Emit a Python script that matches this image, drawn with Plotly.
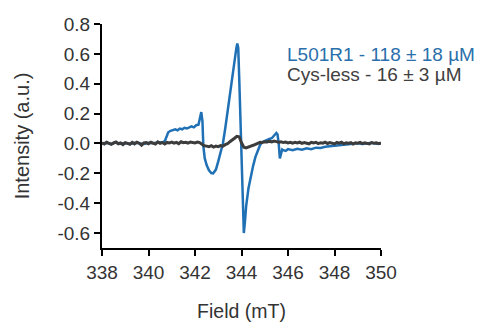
import plotly.graph_objects as go

# Field (mT) and intensity values
blue_field = [338.0, 338.2, 338.4, 338.6, 338.8, 339.0, 339.2, 339.4, 339.6, 339.8,
              340.0, 340.2, 340.4, 340.6, 340.7, 340.8, 340.85, 340.95, 341.05, 341.15,
              341.25, 341.35, 341.45, 341.55, 341.65, 341.75, 341.85, 341.95, 342.05, 342.15,
              342.2, 342.27, 342.32, 342.36, 342.42, 342.5, 342.6, 342.7, 342.78, 342.9,
              343.0, 343.1, 343.2, 343.3, 343.4, 343.5, 343.6, 343.7, 343.78, 343.82,
              343.86, 343.9, 343.95, 344.0, 344.05, 344.1, 344.15, 344.2, 344.3, 344.4,
              344.5, 344.6, 344.7, 344.8, 344.9, 345.0, 345.1, 345.2, 345.3, 345.4,
              345.5, 345.55, 345.6, 345.65, 345.7, 345.75, 345.8, 345.9, 346.0, 346.2,
              346.4, 346.6, 346.8, 347.0, 347.2, 347.4, 347.6, 347.8, 348.0, 348.2,
              348.4, 348.6, 348.8, 349.0, 349.2, 349.4, 349.6, 349.8, 350.0]
blue_intensity = [0.000, 0.004, -0.003, 0.006, -0.002, 0.003, -0.004, 0.005, 0.001, -0.003,
                  0.004, 0.002, 0.006, 0.008, 0.015, 0.050, 0.075, 0.085, 0.090, 0.095,
                  0.088, 0.100, 0.095, 0.105, 0.100, 0.110, 0.115, 0.108, 0.122, 0.125,
                  0.160, 0.210, 0.150, -0.020, -0.100, -0.145, -0.180, -0.198, -0.200, -0.175,
                  -0.120, -0.050, 0.000, 0.100, 0.220, 0.330, 0.450, 0.560, 0.640, 0.670,
                  0.640, 0.450, 0.200, -0.120, -0.420, -0.600, -0.520, -0.420, -0.300, -0.220,
                  -0.150, -0.090, -0.045, -0.010, 0.010, 0.018, 0.022, 0.030, 0.035, 0.050,
                  0.070, 0.060, 0.000, -0.100, -0.070, -0.040, -0.045, -0.050, -0.038, -0.045,
                  -0.035, -0.042, -0.032, -0.038, -0.028, -0.030, -0.022, -0.020, -0.015, -0.012,
                  -0.008, -0.004, -0.002, 0.002, -0.003, 0.001, 0.004, -0.002, 0.000]

gray_field = [round(338.0 + 0.1 * i, 1) for i in range(121)]
gray_intensity = [0.005, -0.004, 0.008, 0.000, -0.006, 0.004, 0.010, -0.002, 0.003, -0.008,
                  0.006, 0.001, -0.005, 0.007, -0.003, 0.009, 0.002, -0.012, 0.004, 0.006,
                  -0.002, 0.008, 0.003, -0.004, 0.010, 0.001, 0.006, -0.003, 0.007, 0.004,
                  0.009, 0.002, 0.007, -0.001, 0.011, 0.005, 0.008, 0.003, 0.010, 0.006,
                  0.004, 0.009, 0.006, -0.005, -0.015, -0.018, -0.022, -0.015, -0.024, -0.018,
                  -0.021, -0.014, -0.018, -0.008, -0.002, 0.012, 0.022, 0.035, 0.048, 0.045,
                  0.005, -0.025, -0.030, -0.022, -0.018, -0.012, -0.006, 0.002, 0.008, 0.006,
                  0.012, 0.010, 0.015, 0.011, 0.016, 0.012, 0.008, 0.011, 0.006, 0.009,
                  0.004, 0.008, 0.002, 0.007, 0.003, 0.009, 0.001, 0.006, 0.004, -0.002,
                  0.007, 0.003, 0.008, -0.001, 0.005, 0.002, 0.009, 0.000, 0.006, 0.003,
                  -0.003, 0.007, 0.002, 0.008, -0.002, 0.005, 0.001, 0.006, -0.004, 0.004,
                  0.002, 0.007, -0.001, 0.005, 0.003, -0.003, 0.006, 0.001, 0.004, -0.002,
                  0.003]

labels = ["L501R1 - 118 ± 18 µM", "Cys-less - 16 ± 3 µM"]
line_colors = ["#1f70b4", "#3c3c3c"]
text_colors = ["#2a6fab", "#404040"]

y_ticks = [0.8, 0.6, 0.4, 0.2, 0.0, -0.2, -0.4, -0.6]
x_ticks = [338, 340, 342, 344, 346, 348, 350]

FONT = "Arial, Liberation Sans, sans-serif"

fig = go.Figure()
fig.add_trace(go.Scatter(x=blue_field, y=blue_intensity, mode="lines",
                         line=dict(color=line_colors[0], width=2.5), showlegend=False))
fig.add_trace(go.Scatter(x=gray_field, y=gray_intensity, mode="lines",
                         line=dict(color=line_colors[1], width=3), showlegend=False))

for i, (lab, col) in enumerate(zip(labels, text_colors)):
    fig.add_annotation(xref="paper", yref="paper", x=0.66, y=[0.862, 0.774][i],
                       xanchor="left", yanchor="middle", text=lab, showarrow=False,
                       borderpad=0,
                       font=dict(family=FONT, size=19, color=col))

fig.update_layout(
    width=495, height=322,
    margin=dict(l=102, r=114, t=24, b=74, autoexpand=False),
    paper_bgcolor="white", plot_bgcolor="white",
    font=dict(family=FONT, color="#333333"),
    xaxis=dict(range=[338, 350], tickvals=x_ticks, ticktext=[str(v) for v in x_ticks],
               automargin=False,
               showgrid=False, zeroline=False, showline=True, linecolor="black", linewidth=2,
               ticks="outside", ticklen=6, tickwidth=2, tickcolor="black",
               tickfont=dict(family=FONT, size=19, color="#333333"),
               title=dict(text="Field (mT)", font=dict(family=FONT, size=19.5, color="#333333"),
                          standoff=24)),
    yaxis=dict(range=[-0.7, 0.8], tickvals=y_ticks, ticktext=[f"{v:.1f}" for v in y_ticks],
               automargin=False,
               showgrid=False, zeroline=False, showline=True, linecolor="black", linewidth=2,
               ticks="outside", ticklen=6, tickwidth=2, tickcolor="black",
               tickfont=dict(family=FONT, size=19, color="#333333"),
               title=dict(text="Intensity (a.u.)", font=dict(family=FONT, size=20, color="#333333"),
                          standoff=22)),
)

fig.write_html("out.html")
